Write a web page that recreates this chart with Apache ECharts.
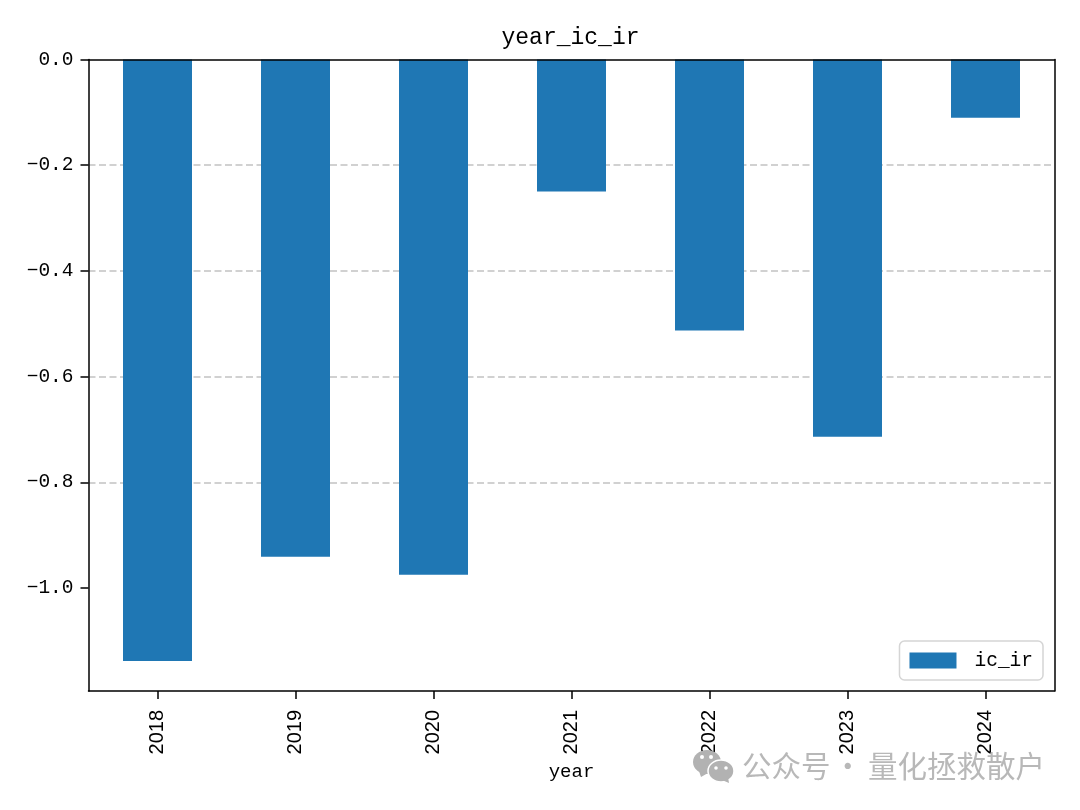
<!DOCTYPE html>
<html><head><meta charset="utf-8">
<style>html,body{margin:0;padding:0;background:#fff}#c{width:1080px;height:810px}</style>
<script src="https://cdn.jsdelivr.net/npm/echarts@6/dist/echarts.min.js"></script>
</head><body><div id="c"></div>
<script>
const years = ['2018','2019','2020','2021','2022','2023','2024'];
const icIr = [-1.138,-0.941,-0.975,-0.25,-0.513,-0.714,-0.11];
const seriesName = 'ic_ir';
const titleText = 'year_ic_ir';
const xName = 'year';
const watermarkLeft = '公众号';
const watermarkDot = '·';
const watermarkRight = '量化拯救散户';
const yTicks = [0,-0.2,-0.4,-0.6,-0.8,-1.0];
const yMin = -1.195, yMax = 0, yStep = 0.2;
const mono = '"Liberation Mono","DejaVu Sans Mono",monospace';
const chart = echarts.init(document.getElementById('c'), null, {renderer:'canvas'});
const black = '#000';
const wm = '#b2b2b2';
const wmText = {fontFamily:'"Noto Sans CJK SC"',fontSize:29.5,fill:'#b8b8b8'};
chart.setOption({
  animation:false,
  backgroundColor:'#fff',
  title:{text:titleText,left:565.5,top:21,textAlign:'center',textStyle:{fontFamily:mono,fontSize:23,fontWeight:'normal',color:black}},
  grid:{left:88.5,top:59.5,width:966,height:631.5,containLabel:false},
  legend:{
    show:true,right:37,top:641,orient:'horizontal',padding:[9.5,10,9.5,10],
    backgroundColor:'#fff',borderColor:'#d5d5d5',borderWidth:1.5,borderRadius:5,
    itemWidth:47,itemHeight:16,itemStyle:{borderWidth:0},
    icon:'rect',
    textStyle:{fontFamily:mono,fontSize:19.5,color:black,padding:[0,0,0,13]},
    data:[seriesName]
  },
  xAxis:[{
    type:'category',data:years,position:'bottom',boundaryGap:true,
    name:xName,nameLocation:'middle',nameGap:71,nameTextStyle:{fontFamily:mono,fontSize:19,color:black},
    axisLine:{show:true,onZero:false,lineStyle:{color:black,width:1.5}},
    axisTick:{show:true,interval:0,alignWithLabel:true,length:8,lineStyle:{color:black,width:1.5}},
    axisLabel:{rotate:90,margin:19,fontFamily:'"Liberation Sans",Arial,sans-serif',fontSize:20,color:black,interval:0},
    splitLine:{show:false}
  },{
    type:'category',data:years,position:'top',z:5,
    axisLine:{show:true,onZero:false,lineStyle:{color:black,width:1.5}},
    axisTick:{show:false},axisLabel:{show:false},splitLine:{show:false}
  }],
  yAxis:[{
    type:'value',min:yMin,max:yMax,interval:yStep,
    axisLine:{show:true,onZero:false,lineStyle:{color:black,width:1.5}},
    axisTick:{show:true,length:8,lineStyle:{color:black,width:1.5},customValues:yTicks},
    axisLabel:{margin:15,fontFamily:mono,fontSize:19.5,color:black,customValues:yTicks,
      formatter:v=>(v<0?'\u2212':'')+Math.abs(v).toFixed(1)},
    splitLine:{show:true,showMinLine:false,showMaxLine:false,lineStyle:{color:'#c2c2c2',type:[7,3.5],width:1.5}}
  },{
    type:'value',min:yMin,max:yMax,position:'right',z:5,
    axisLine:{show:true,onZero:false,lineStyle:{color:black,width:1.5}},
    axisTick:{show:false},axisLabel:{show:false},splitLine:{show:false}
  }],
  series:[{
    name:seriesName,type:'bar',data:icIr,barWidth:'50%',
    itemStyle:{color:'#1f77b4'},xAxisIndex:0,yAxisIndex:0
  }],
  graphic:[
    {type:'text',left:742,top:751,z:100,style:Object.assign({text:watermarkLeft},wmText)},
    {type:'text',left:833,top:751,z:100,style:Object.assign({text:watermarkDot},wmText)},
    {type:'text',left:868,top:751,z:100,style:Object.assign({text:watermarkRight},wmText)},
    {type:'ellipse',z:100,shape:{cx:707,cy:762,rx:14,ry:12},style:{fill:wm}},
    {type:'polygon',z:100,shape:{points:[[699,771],[701,777],[708,773]]},style:{fill:wm}},
    {type:'circle',z:101,shape:{cx:702,cy:757,r:2},style:{fill:'#fff'}},
    {type:'circle',z:101,shape:{cx:711,cy:757,r:2},style:{fill:'#fff'}},
    {type:'ellipse',z:102,shape:{cx:721,cy:771,rx:13,ry:11},style:{fill:wm,stroke:'#fff',lineWidth:1.5}},
    {type:'polygon',z:102,shape:{points:[[722,780],[729,783],[728,777]]},style:{fill:wm}},
    {type:'circle',z:103,shape:{cx:716,cy:768,r:1.8},style:{fill:'#fff'}},
    {type:'circle',z:103,shape:{cx:726,cy:768,r:1.8},style:{fill:'#fff'}}
  ]
});
</script></body></html>
